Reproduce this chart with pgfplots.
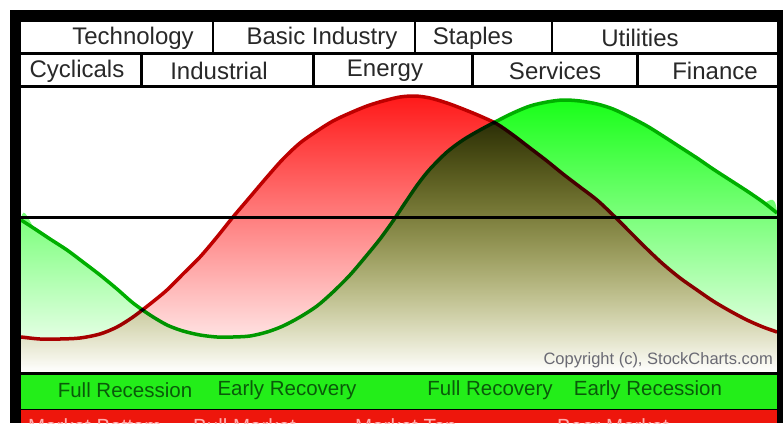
\documentclass[border=0pt]{standalone}
\usepackage{pgfplots}
\pgfplotsset{compat=1.18}
\usepackage{fontspec}
\setmainfont{Liberation Sans}
\definecolor{hdrtext}{RGB}{40,40,40}
\definecolor{bandgreen}{RGB}{35,238,25}
\definecolor{bandred}{RGB}{238,22,12}
\definecolor{bandgreentext}{RGB}{10,90,10}
\definecolor{bandredtext}{RGB}{255,175,175}
\definecolor{fillred}{RGB}{255,25,25}
\definecolor{fillgreen}{RGB}{25,255,25}
\definecolor{linered}{RGB}{190,0,0}
\definecolor{linegreen}{RGB}{0,175,0}
\definecolor{copygray}{RGB}{105,105,115}
\begin{document}
\begin{tikzpicture}
\useasboundingbox (0,0) rectangle (783pt,423pt);
\clip (0,0) rectangle (783pt,423pt);
\begin{axis}[at={(0,0)}, anchor=south west, scale only axis,
  width=783pt, height=423pt, xmin=0, xmax=783, ymin=0, ymax=423,
  y dir=reverse, hide axis, clip=false]
% background and frame
\fill[white] (0,0) rectangle (783,423);
\fill[black] (10,10) rectangle (783,423);
% header row 1
\fill[white] (21,22) rectangle (212,52);
\fill[white] (214,22) rectangle (414,52);
\fill[white] (416,22) rectangle (551,52);
\fill[white] (553,22) rectangle (777,52);
% header row 2
\fill[white] (21,55) rectangle (140,85);
\fill[white] (143,55) rectangle (312,85);
\fill[white] (315,55) rectangle (471,85);
\fill[white] (474,55) rectangle (636,85);
\fill[white] (639,55) rectangle (777,85);
% plot area
\fill[white] (21,88) rectangle (777,372);
% bottom bands
\fill[bandgreen] (21,375) rectangle (777,409);
\fill[bandred] (21,410) rectangle (777,423);
% header texts
\begin{scope}[every node/.style={font=\fontsize{24}{28}\selectfont, text=hdrtext, inner sep=0pt}]
\node at (133,38) {Technology};
\node at (322,38) {Basic Industry};
\node at (473,38) {Staples};
\node at (640,38) {Utilities};
\node at (77,71) {Cyclicals};
\node at (219,71) {Industrial};
\node at (385,71) {Energy};
\node at (555,71) {Services};
\node at (715,71) {Finance};
\end{scope}
% red fill
\addplot[draw=none, top color=fillred, bottom color=white, blend mode=multiply, smooth] coordinates {
(21,372) (21,337) (40,339) (60,339) (80,338) (100,334) (117,327) (133,317) (150,304) (167,290) (183,274) (200,257) (217,237) (233,217) (250,197) (267,177) (283,159) (300,143) (317,131) (333,121) (350,113) (367,106) (383,101) (400,97) (415,96) (430,98) (447,103) (463,109) (480,116) (497,124) (513,135) (530,148) (547,161) (563,174) (580,187) (597,200) (613,215) (630,232) (647,249) (663,264) (680,278) (697,290) (713,301) (730,311) (747,320) (763,327) (777,332) (777,372)
};
% green fill
\addplot[draw=none, top color=fillgreen, bottom color=white, blend mode=multiply, smooth] coordinates {
(21,372) (21,220) (35,229) (50,239) (67,250) (83,262) (100,275) (117,289) (133,303) (150,315) (167,325) (183,331) (200,335) (217,337) (233,337) (250,336) (267,332) (283,326) (300,317) (317,306) (333,292) (350,275) (367,255) (380,239) (393,221) (405,203) (418,184) (430,169) (447,152) (463,140) (480,130) (497,121) (513,113) (530,106) (547,102) (563,100) (580,101) (597,104) (613,109) (630,117) (647,126) (663,136) (680,147) (697,158) (713,169) (730,180) (747,191) (763,202) (777,213) (777,372)
};
% horizontal line
\draw[black, line width=3pt] (21,217) -- (777,217);
% curve outlines
\addplot[linered, line width=3.5pt, smooth, blend mode=multiply] coordinates {
(21,337) (40,339) (60,339) (80,338) (100,334) (117,327) (133,317) (150,304) (167,290) (183,274) (200,257) (217,237) (233,217) (250,197) (267,177) (283,159) (300,143) (317,131) (333,121) (350,113) (367,106) (383,101) (400,97) (415,96) (430,98) (447,103) (463,109) (480,116) (497,124) (513,135) (530,148) (547,161) (563,174) (580,187) (597,200) (613,215) (630,232) (647,249) (663,264) (680,278) (697,290) (713,301) (730,311) (747,320) (763,327) (777,332)
};
\addplot[linegreen, line width=3.5pt, smooth, blend mode=multiply] coordinates {
(21,220) (35,229) (50,239) (67,250) (83,262) (100,275) (117,289) (133,303) (150,315) (167,325) (183,331) (200,335) (217,337) (233,337) (250,336) (267,332) (283,326) (300,317) (317,306) (333,292) (350,275) (367,255) (380,239) (393,221) (405,203) (418,184) (430,169) (447,152) (463,140) (480,130) (497,121) (513,113) (530,106) (547,102) (563,100) (580,101) (597,104) (613,109) (630,117) (647,126) (663,136) (680,147) (697,158) (713,169) (730,180) (747,191) (763,202) (777,213)
};
% copyright
\node[anchor=east, inner sep=0pt, font=\fontsize{16.5}{18}\selectfont, text=copygray] at (773,360) {Copyright (c), StockCharts.com};
% band texts
\begin{scope}[every node/.style={font=\fontsize{20.5}{24}\selectfont, text=bandgreentext, inner sep=0pt}]
\node at (125,390) {Full Recession};
\node at (287,390) {Early Recovery};
\node at (490,390) {Full Recovery};
\node at (648,390) {Early Recession};
\end{scope}
\begin{scope}[every node/.style={font=\fontsize{20.5}{24}\selectfont, text=bandredtext, inner sep=0pt, anchor=base west}]
\node at (28,433) {Market Bottom};
\node at (193,433) {Bull Market};
\node at (355,433) {Market Top};
\node at (557,433) {Bear Market};
\end{scope}
% right black edge
\fill[black] (778,10) rectangle (783,423);
\end{axis}
\end{tikzpicture}
\end{document}
